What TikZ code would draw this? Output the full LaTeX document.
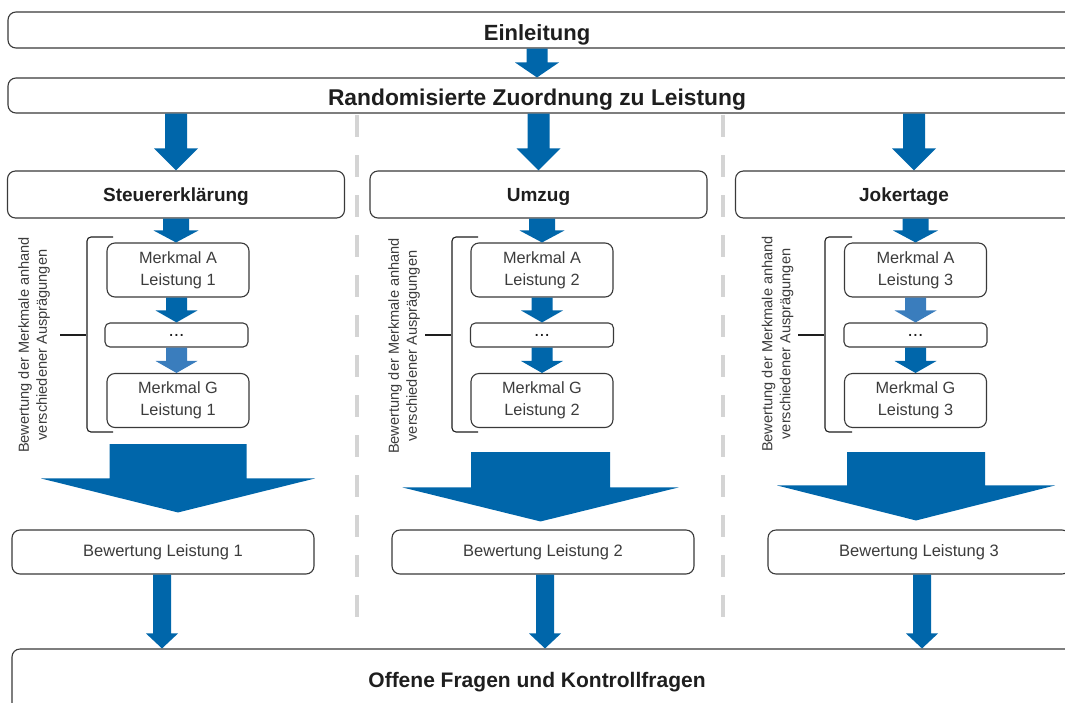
\documentclass[tikz,border=0pt]{standalone}
\usepackage{fontspec}
\setmainfont{Liberation Sans}
\usetikzlibrary{calc}
\definecolor{arrowblue}{HTML}{0066AA}
\definecolor{lightblue}{HTML}{3A7DBD}
\definecolor{boxline}{HTML}{3A3A3A}
\definecolor{dashgray}{HTML}{D4D4D4}
\definecolor{txt}{HTML}{1E1E1E}
\definecolor{txtlight}{HTML}{3C3C3C}
% block arrow: [colour]{start}{end}{shaft half width}{head half width}{head length}
\newcommand\blk[6][arrowblue]{%
  \fill[#1] let \p1=(#2), \p2=(#3) in
    (\x1-#4pt,\y1) -- (\x1+#4pt,\y1) -- (\x1+#4pt,\y2+#6pt) -- (\x1+#5pt,\y2+#6pt)
    -- (\x1,\y2) -- (\x1-#5pt,\y2+#6pt) -- (\x1-#4pt,\y2+#6pt) -- cycle;}
\begin{document}
\begin{tikzpicture}[x=1pt,y=-1pt,
  box/.style={draw=boxline, line width=1.1pt, rounded corners=8pt, inner sep=0pt, fill=white},
  title/.style={font=\fontsize{22}{26}\selectfont\bfseries, text=txt, anchor=base, inner sep=0pt},
  cat/.style={box, minimum width=337pt, minimum height=47pt, text height=14pt, text depth=0pt, font=\fontsize{19}{22}\selectfont\bfseries, text=txt},
  feat/.style={box, minimum width=142pt, minimum height=54pt, align=center, font=\fontsize{16.3}{22}\selectfont, text=txtlight},
  dots/.style={box, rounded corners=5pt, minimum width=143pt, minimum height=24pt, font=\fontsize{19}{20}\selectfont, text=txt},
  bew/.style={box, minimum width=302pt, minimum height=44pt, font=\fontsize{16.5}{20}\selectfont, text=txtlight},
  side/.style={rotate=90, align=center, font=\fontsize{14.6}{18}\selectfont, text=txtlight, inner sep=0pt},
  brace/.style={draw=txt, line width=1.1pt},
  sep/.style={draw=dashgray, line width=4.5pt, dash pattern=on 22pt off 18pt}
]
\clip (0,0) rectangle (1065,702);
\fill[white] (0,0) rectangle (1065,702);

% column separators
\draw[sep] (357,115) -- (357,632);
\draw[sep] (723,115) -- (723,632);

% top boxes
\node[box, minimum width=1092pt, minimum height=36pt] (ein) at (554,30) {};
\node[title] (einT) at (537,40) {Einleitung};
\node[box, minimum width=1092pt, minimum height=35pt] (rand) at (554,95.5) {};
\node[title, font=\fontsize{22.8}{26}\selectfont\bfseries] (randT) at (537,105) {Randomisierte Zuordnung zu Leistung};

% categories
\node[cat] (cat1) at (176,194.5) {Steuererklärung};
\node[cat] (cat2) at (538.5,194.5) {Umzug};
\node[cat] (cat3) at (904,194.5) {Jokertage};

% feature boxes
\node[feat] (ma1) at (178,270) {Merkmal A\\Leistung 1};
\node[dots] (d1) at (176.5,335) {...};
\node[feat] (mg1) at (178,400.5) {Merkmal G\\Leistung 1};

\node[feat] (ma2) at (542,270) {Merkmal A\\Leistung 2};
\node[dots] (d2) at (542,335) {...};
\node[feat] (mg2) at (542,400.5) {Merkmal G\\Leistung 2};

\node[feat] (ma3) at (915.5,270) {Merkmal A\\Leistung 3};
\node[dots] (d3) at (915.5,335) {...};
\node[feat] (mg3) at (915.5,400.5) {Merkmal G\\Leistung 3};

% side labels
\node[side] (s1) at (34,345) {Bewertung der Merkmale anhand\\verschiedener Ausprägungen};
\node[side] (s2) at (404,346) {Bewertung der Merkmale anhand\\verschiedener Ausprägungen};
\node[side] (s3) at (777.5,344) {Bewertung der Merkmale anhand\\verschiedener Ausprägungen};

% braces
\foreach \bx/\tx/\mx in {87/113/60, 452/478/425, 825/852/798}{
  \draw[brace, rounded corners=4pt] (\tx,237) -- (\bx,237) -- (\bx,335) -- (\bx,432) -- (\tx,432);
  \draw[brace] (\mx,335) -- (\bx-1,335);
}

% evaluation boxes
\node[bew] (bw1) at (163,552) {Bewertung Leistung 1};
\node[bew] (bw2) at (543,552) {Bewertung Leistung 2};
\node[bew] (bw3) at (919,552) {Bewertung Leistung 3};

% final box
\node[box, minimum width=1088pt, minimum height=91pt] (off) at (556,694.5) {};
\node[title, font=\fontsize{21}{25}\selectfont\bfseries] (offT) at (537,687) {Offene Fragen und Kontrollfragen};

% arrows
\coordinate (x1) at (176,0);
\coordinate (x2) at (538.5,0);
\coordinate (x3) at (914,0);
\blk{ein.south -| einT}{rand.north -| einT}{10.5}{22}{15}
\blk{rand.south -| x1}{cat1.north -| x1}{11}{22}{22}
\blk{rand.south -| x2}{cat2.north -| x2}{11}{22}{22}
\blk{rand.south -| x3}{cat3.north -| x3}{11}{22}{22}

\blk{cat1.south}{ma1.north}{13}{22.5}{12}
\blk{cat2.south -| ma2}{ma2.north}{13}{22.5}{12}
\blk{cat3.south -| ma3}{ma3.north}{13}{22.5}{12}

\blk{ma1.south -| d1}{d1.north}{10.5}{21}{12}
\blk[lightblue]{d1.south}{mg1.north}{10.5}{21}{12}
\blk{ma2.south}{d2.north}{10.5}{21}{12}
\blk{d2.south}{mg2.north}{10.5}{21}{12}
\blk[lightblue]{ma3.south}{d3.north}{10.5}{21}{12}
\blk{d3.south}{mg3.north}{10.5}{21}{12}

\blk{$(mg1.south)+(0,16)$}{$(bw1.north)+(0,-17)$}{68.5}{137}{34}
\blk{$(mg2.south)+(-1.5,24)$}{$(bw2.north)+(0,-8)$}{69.5}{138}{34}
\blk{$(mg3.south)+(0.5,24)$}{$(bw3.north)+(0,-9)$}{69}{139}{35}

\blk{$(bw1.south)+(-1,0)$}{off.north}{9}{16}{15}
\blk{$(bw2.south)+(2,0)$}{off.north}{9}{16}{15}
\blk{$(bw3.south)+(3,0)$}{off.north}{9}{16}{15}
\end{tikzpicture}
\end{document}
